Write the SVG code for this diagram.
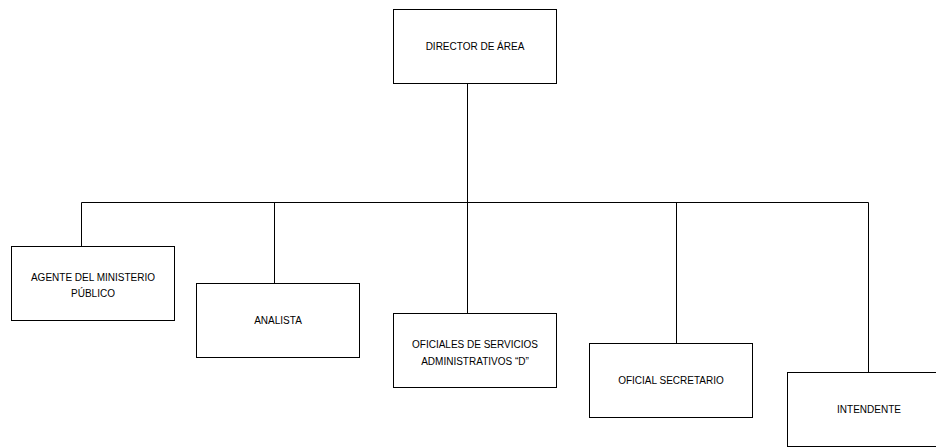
<svg xmlns="http://www.w3.org/2000/svg" width="936" height="447" viewBox="0 0 936 447">
<style>
.box{fill:#fff;stroke:#000;stroke-width:1}
.lbl{font-family:"Liberation Sans",Arial,sans-serif;font-size:10px;fill:#000;text-anchor:middle}
.conn{stroke:#000;stroke-width:1;fill:none}
</style>
<rect width="936" height="447" fill="#fff"/>
<g id="connectors">
<path class="conn" d="M467.5 83 V202.5"/>
<path class="conn" d="M81.5 202.5 H868.5"/>
<path class="conn" d="M81.5 202.5 V246"/>
<path class="conn" d="M274.5 202.5 V283"/>
<path class="conn" d="M467.5 202.5 V313"/>
<path class="conn" d="M676.5 202.5 V343"/>
<path class="conn" d="M868.5 202.5 V372"/>
</g>
<g id="director">
<rect class="box" x="393.5" y="9.5" width="163" height="74"/>
<text class="lbl" x="475" y="50">DIRECTOR DE ÁREA</text>
</g>
<g id="agente">
<rect class="box" x="11.5" y="246.5" width="163" height="74"/>
<text class="lbl" x="93" y="281">AGENTE DEL MINISTERIO</text>
<text class="lbl" x="93" y="297">PÚBLICO</text>
</g>
<g id="analista">
<rect class="box" x="196.5" y="283.5" width="163" height="74"/>
<text class="lbl" x="278" y="324">ANALISTA</text>
</g>
<g id="oficiales">
<rect class="box" x="393.5" y="313.5" width="163" height="74"/>
<text class="lbl" x="475" y="348">OFICIALES DE SERVICIOS</text>
<text class="lbl" x="475" y="365">ADMINISTRATIVOS “D”</text>
</g>
<g id="secretario">
<rect class="box" x="589.5" y="343.5" width="163" height="74"/>
<text class="lbl" x="671" y="384">OFICIAL SECRETARIO</text>
</g>
<g id="intendente">
<rect class="box" x="787.5" y="372.5" width="163" height="74"/>
<text class="lbl" x="869" y="413">INTENDENTE</text>
</g>
</svg>
